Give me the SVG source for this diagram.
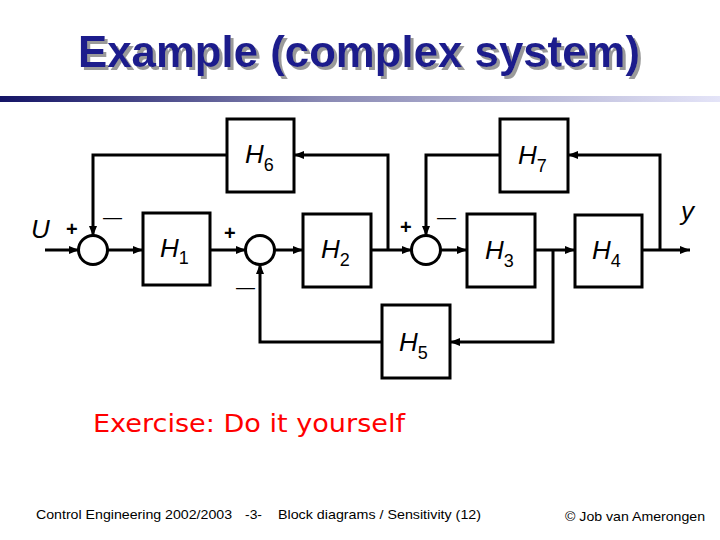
<svg xmlns="http://www.w3.org/2000/svg" width="720" height="540" viewBox="0 0 720 540">
<defs>
<linearGradient id="bar" x1="0" y1="0" x2="1" y2="0">
<stop offset="0" stop-color="#141466"/>
<stop offset="0.45" stop-color="#8a8ab4"/>
<stop offset="1" stop-color="#e4e4f8"/>
</linearGradient>
<filter id="shadow" x="-5%" y="-20%" width="110%" height="140%">
<feOffset in="SourceAlpha" dx="3" dy="3" result="off"/>
<feFlood flood-color="#9a9a9a"/>
<feComposite in2="off" operator="in" result="sh"/>
<feMerge><feMergeNode in="sh"/><feMergeNode in="SourceGraphic"/></feMerge>
</filter>
<marker id="ah" viewBox="0 0 10 8" refX="10" refY="4" markerWidth="10" markerHeight="8" markerUnits="userSpaceOnUse" orient="auto">
<path d="M0,0 L10,4 L0,8 z" fill="#000"/>
</marker>
<style>
.box{fill:#fff;stroke:#000;stroke-width:3}
.sum{fill:#fff;stroke:#000;stroke-width:3}
.wire{fill:none;stroke:#000;stroke-width:3;stroke-linejoin:miter}
.lbl{font-family:"Liberation Sans",Arial,sans-serif;font-style:italic;font-size:26px;fill:#000}
.sub{font-style:normal;font-size:18px}
.sgn{font-family:"Liberation Sans",Arial,sans-serif;font-weight:bold;font-size:20px;fill:#000}
.dash{font-family:"Liberation Sans",Arial,sans-serif;font-size:19px;fill:#000}
.foot{font-family:"Liberation Sans",Arial,sans-serif;font-size:13px;fill:#000}
</style>
</defs>
<rect width="720" height="540" fill="#fff"/>
<g id="title">
<text x="359" y="67" text-anchor="middle" font-family="Liberation Sans,Arial,sans-serif" font-weight="bold" font-size="44" fill="#1c1c8c" textLength="562" lengthAdjust="spacingAndGlyphs" filter="url(#shadow)">Example (complex system)</text>
<rect x="0" y="96" width="720" height="6" fill="url(#bar)"/>
</g>
<g id="connectors">
<path class="wire" d="M45,250 H79" marker-end="url(#ah)"/>
<path class="wire" d="M107,250 H143" marker-end="url(#ah)"/>
<path class="wire" d="M210,250 H246" marker-end="url(#ah)"/>
<path class="wire" d="M274,250 H303" marker-end="url(#ah)"/>
<path class="wire" d="M371,250 H412" marker-end="url(#ah)"/>
<path class="wire" d="M440,250 H467" marker-end="url(#ah)"/>
<path class="wire" d="M535,250 H575" marker-end="url(#ah)"/>
<path class="wire" d="M642,250 H690" marker-end="url(#ah)"/>
<path class="wire" d="M388,250 V155 H294" marker-end="url(#ah)"/>
<path class="wire" d="M227,155 H93 V236" marker-end="url(#ah)"/>
<path class="wire" d="M660,250 V155 H568" marker-end="url(#ah)"/>
<path class="wire" d="M500,155 H426 V236" marker-end="url(#ah)"/>
<path class="wire" d="M553,250 V342 H450" marker-end="url(#ah)"/>
<path class="wire" d="M382,342 H260 V264" marker-end="url(#ah)"/>
</g>
<g id="sum1">
<circle class="sum" cx="93" cy="250" r="14.5"/>
<text class="sgn" x="66" y="236">+</text>
<text class="dash" x="103" y="223">—</text>
</g>
<g id="sum2">
<circle class="sum" cx="260" cy="250" r="14.5"/>
<text class="sgn" x="224" y="240">+</text>
<text class="dash" x="236" y="293">—</text>
</g>
<g id="sum3">
<circle class="sum" cx="426" cy="250" r="14.5"/>
<text class="sgn" x="400" y="234">+</text>
<text class="dash" x="437" y="223">—</text>
</g>
<g id="H1">
<rect class="box" x="143" y="213" width="67" height="72"/>
<text class="lbl" x="160" y="257">H<tspan class="sub" dy="7">1</tspan></text>
</g>
<g id="H2">
<rect class="box" x="303" y="214" width="68" height="73"/>
<text class="lbl" x="321" y="258">H<tspan class="sub" dy="8">2</tspan></text>
</g>
<g id="H3">
<rect class="box" x="467" y="214" width="68" height="73"/>
<text class="lbl" x="485" y="259">H<tspan class="sub" dy="8">3</tspan></text>
</g>
<g id="H4">
<rect class="box" x="575" y="215" width="67" height="72"/>
<text class="lbl" x="592" y="259">H<tspan class="sub" dy="8">4</tspan></text>
</g>
<g id="H5">
<rect class="box" x="382" y="305" width="68" height="73"/>
<text class="lbl" x="399" y="351">H<tspan class="sub" dy="8">5</tspan></text>
</g>
<g id="H6">
<rect class="box" x="227" y="119" width="67" height="73"/>
<text class="lbl" x="245" y="163">H<tspan class="sub" dy="8">6</tspan></text>
</g>
<g id="H7">
<rect class="box" x="500" y="119" width="68" height="73"/>
<text class="lbl" x="518" y="164">H<tspan class="sub" dy="8">7</tspan></text>
</g>
<g id="io">
<text class="lbl" x="31" y="238">U</text>
<text class="lbl" x="681" y="220">y</text>
</g>
<g id="exercise">
<text x="93" y="432" font-family="Comic Sans MS,DejaVu Sans,sans-serif" font-size="24" fill="#ff0000" textLength="312" lengthAdjust="spacingAndGlyphs">Exercise: Do it yourself</text>
</g>
<g id="footer">
<text class="foot" x="36" y="519" textLength="196" lengthAdjust="spacingAndGlyphs">Control Engineering 2002/2003</text>
<text class="foot" x="245" y="519" textLength="17" lengthAdjust="spacingAndGlyphs">-3-</text>
<text class="foot" x="278" y="519" textLength="203" lengthAdjust="spacingAndGlyphs">Block diagrams / Sensitivity  (12)</text>
<text class="foot" x="565" y="521" textLength="140" lengthAdjust="spacingAndGlyphs">© Job van Amerongen</text>
</g>
</svg>
